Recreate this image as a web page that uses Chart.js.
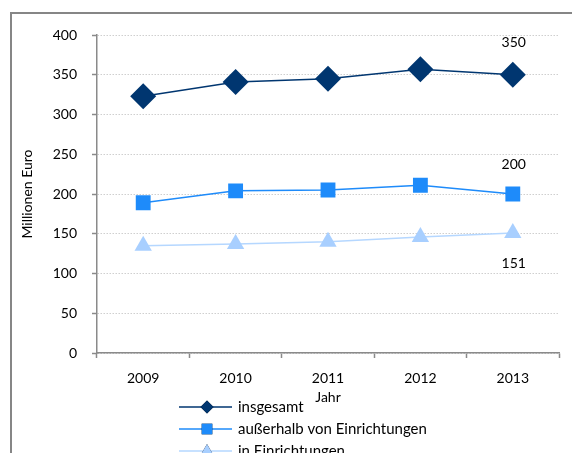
<!DOCTYPE html>
<html>
<head>
<meta charset="utf-8">
<script src="https://cdn.jsdelivr.net/npm/chart.js@4/dist/chart.umd.min.js"></script>
<style>
  body { margin: 0; background: #fff; }
  canvas { display: block; }
</style>
</head>
<body>
<canvas id="chart" width="572" height="453"></canvas>
<script>
  // Daten
  const jahre = ['2009', '2010', '2011', '2012', '2013'];
  const insgesamt = [323, 341, 345, 357, 350];
  const ausserhalb = [189, 204, 205, 211, 200];
  const inEinrichtungen = [135, 137, 140, 146, 151];
  const yTicks = [0, 50, 100, 150, 200, 250, 300, 350, 400];

  const schrift = 'Lato, "Open Sans", sans-serif';

  // Rahmen um die Grafik (oben links sichtbar)
  const rahmenPlugin = {
    id: 'rahmen',
    beforeDraw(chart) {
      const ctx = chart.ctx;
      ctx.save();
      ctx.fillStyle = '#fff';
      ctx.fillRect(0, 0, chart.width, chart.height);
      ctx.strokeStyle = '#868686';
      ctx.lineWidth = 2;
      ctx.strokeRect(11, 13, 800, 800);
      ctx.restore();
    }
  };

  // Werte am letzten Punkt jeder Reihe
  const labelVersatz = [-32, -30, 31];
  const wertePlugin = {
    id: 'werte',
    afterDatasetsDraw(chart) {
      const ctx = chart.ctx;
      ctx.save();
      ctx.font = '14px ' + schrift;
      ctx.fillStyle = '#000';
      ctx.textAlign = 'center';
      ctx.textBaseline = 'middle';
      chart.data.datasets.forEach(function(ds, i) {
        const meta = chart.getDatasetMeta(i);
        const letzter = meta.data[meta.data.length - 1];
        const wert = ds.data[ds.data.length - 1];
        ctx.fillText(String(Math.round(wert)), letzter.x + 1, letzter.y + labelVersatz[i]);
      });
      ctx.restore();
    }
  };

  // Legende unten: Linie mit Marker
  const legendePlugin = {
    id: 'legende',
    afterDraw(chart) {
      const ctx = chart.ctx;
      const groessen = [6.5, 7.5, 7];
      chart.data.datasets.forEach(function(ds, i) {
        const y = 407 + i * 22;
        ctx.save();
        ctx.strokeStyle = ds.borderColor;
        ctx.lineWidth = ds.borderWidth;
        ctx.beginPath();
        ctx.moveTo(179, y);
        ctx.lineTo(232, y);
        ctx.stroke();
        Chart.helpers.drawPoint(ctx, {
          pointStyle: ds.pointStyle,
          radius: groessen[i],
          rotation: 0,
          borderWidth: 0
        }, 207, y);
        ctx.fillStyle = ds.pointBackgroundColor;
        ctx.fill();
        ctx.font = '15px ' + schrift;
        ctx.fillStyle = '#000';
        ctx.textBaseline = 'middle';
        ctx.textAlign = 'left';
        ctx.fillText(ds.label, 238, y);
        ctx.restore();
      });
    }
  };

  function reihe(label, daten, farbe, linie, stil, radius) {
    return {
      label: label,
      data: daten,
      borderColor: linie,
      borderWidth: 1.5,
      pointStyle: stil,
      pointRadius: radius,
      pointHoverRadius: radius,
      pointBackgroundColor: farbe,
      pointBorderColor: farbe,
      pointBorderWidth: 0,
      tension: 0,
      fill: false
    };
  }

  window.onload = function() {
    const ctx = document.getElementById('chart').getContext('2d');
    window.grafik = new Chart(ctx, {
      type: 'line',
      data: {
        labels: jahre,
        datasets: [
          reihe('insgesamt', insgesamt, '#003670', '#003670', 'rectRot', 13),
          reihe('außerhalb von Einrichtungen', ausserhalb, '#1E8BFA', '#1E8BFA', 'rect', 10.5),
          reihe('in Einrichtungen', inEinrichtungen, '#A8CFFF', '#B5D7FF', 'triangle', 10)
        ]
      },
      options: {
        responsive: false,
        animation: false,
        layout: { padding: { top: 35, right: 13, left: 0, bottom: 0 } },
        plugins: {
          legend: { display: false },
          tooltip: { enabled: false }
        },
        scales: {
          x: {
            type: 'category',
            offset: true,
            afterFit(scale) { scale.height = 100; },
            grid: {
              offset: true,
              drawOnChartArea: false,
              drawTicks: true,
              tickLength: 5,
              tickColor: '#8a8a8a',
              tickWidth: 1.5
            },
            border: { display: true, color: '#8a8a8a', width: 1.5 },
            ticks: {
              font: { family: schrift, size: 14 },
              color: '#000',
              padding: 12,
              maxRotation: 0
            },
            title: {
              display: true,
              text: 'Jahr',
              font: { family: schrift, size: 14 },
              color: '#000',
              padding: { top: 0, bottom: 47 }
            }
          },
          y: {
            min: 0,
            max: 400,
            afterFit(scale) { scale.width = 97; },
            afterBuildTicks(scale) {
              scale.ticks = yTicks.map(function(v) { return { value: v }; });
            },
            grid: {
              color: '#cfcfcf',
              lineWidth: 1,
              drawTicks: true,
              tickLength: 5,
              tickColor: '#8a8a8a',
              tickWidth: 1.5,
              tickBorderDash: []
            },
            border: { display: true, color: '#8a8a8a', width: 1.5, dash: [1.5, 1.5] },
            ticks: {
              font: { family: schrift, size: 14 },
              color: '#000',
              padding: 15
            },
            title: {
              display: true,
              text: 'Millionen Euro',
              font: { family: schrift, size: 14 },
              color: '#000',
              padding: { top: 19, bottom: 0 }
            }
          }
        }
      },
      plugins: [rahmenPlugin, wertePlugin, legendePlugin]
    });
  };
</script>
</body>
</html>
